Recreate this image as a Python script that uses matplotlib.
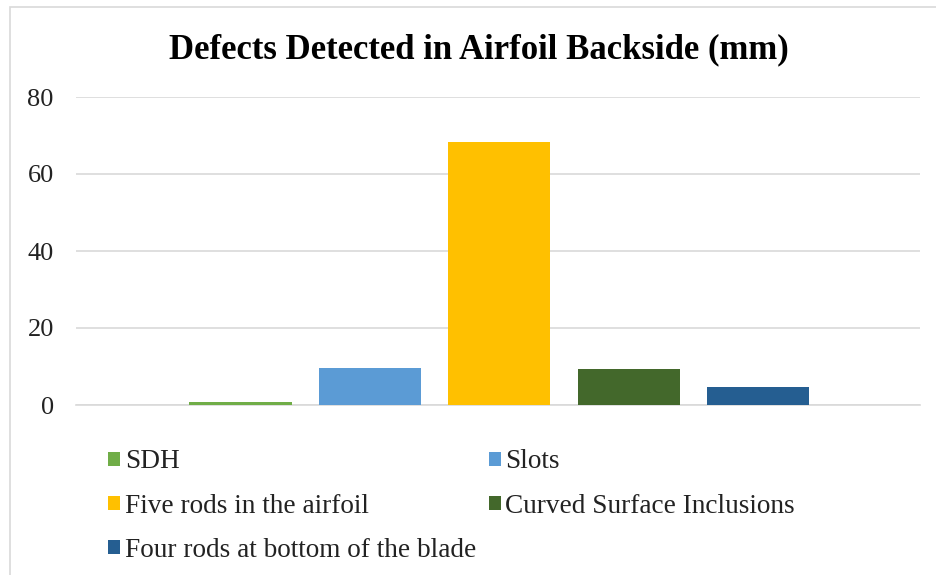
import matplotlib
matplotlib.use("Agg")
import matplotlib.pyplot as plt
from matplotlib.patches import Rectangle, Patch

categories = ["SDH", "Slots", "Five rods in the airfoil",
              "Curved Surface Inclusions", "Four rods at bottom of the blade"]
values = [0.8, 9.5, 68.3, 9.4, 4.7]
colors = ["#70AD47", "#5B9BD5", "#FFC000", "#43682B", "#255E91"]
yticks = [0, 20, 40, 60, 80]

W, H = 937, 575
fig = plt.figure(figsize=(W / 100, H / 100), dpi=100)
plt.rcParams["font.family"] = ["Liberation Serif", "DejaVu Serif"]

# chart frame
fig.patches.append(Rectangle((10 / W, -0.1), 1.2, 1 - 7 / H + 0.1,
                             transform=fig.transFigure, fill=False,
                             edgecolor="#D9D9D9", linewidth=1.2))

ax = fig.add_axes([76 / W, 1 - 405 / H, (920 - 76) / W, (405 - 97) / H])
positions = list(range(len(categories)))
ax.bar(positions, values, width=0.79, color=colors, zorder=3)
ax.set_xlim(-1.27, 5.25)
ax.set_ylim(0, 80)
ax.set_yticks(yticks)
ax.set_yticklabels([str(t) for t in yticks], fontsize=19, color="#222222")
ax.set_xticks([])
ax.tick_params(axis="y", length=0, pad=16)
ax.grid(axis="y", color="#D9D9D9", linewidth=1.2, zorder=0)
for s in ["top", "right", "left"]:
    ax.spines[s].set_visible(False)
ax.spines["bottom"].set_color("#D9D9D9")
ax.spines["bottom"].set_linewidth(1.2)

fig.text(479 / W, 1 - 50 / H, "Defects Detected in Airfoil Backside (mm)",
         ha="center", va="center", fontsize=25, fontweight="bold")

handles = [Patch(facecolor=c, edgecolor="none") for c in colors]
order = [0, 2, 4, 1, 3]
leg = fig.legend([handles[i] for i in order], [categories[i] for i in order],
                 ncol=2, loc="upper left", bbox_to_anchor=(84 / W, 1 - 425 / H),
                 frameon=False, fontsize=19.6, handlelength=0.44, handleheight=0.44,
                 handletextpad=0.18, columnspacing=0.44, labelspacing=0.70)
for t in leg.get_texts():
    t.set_color("#222222")

fig.savefig("out.png", dpi=100, facecolor="white")
